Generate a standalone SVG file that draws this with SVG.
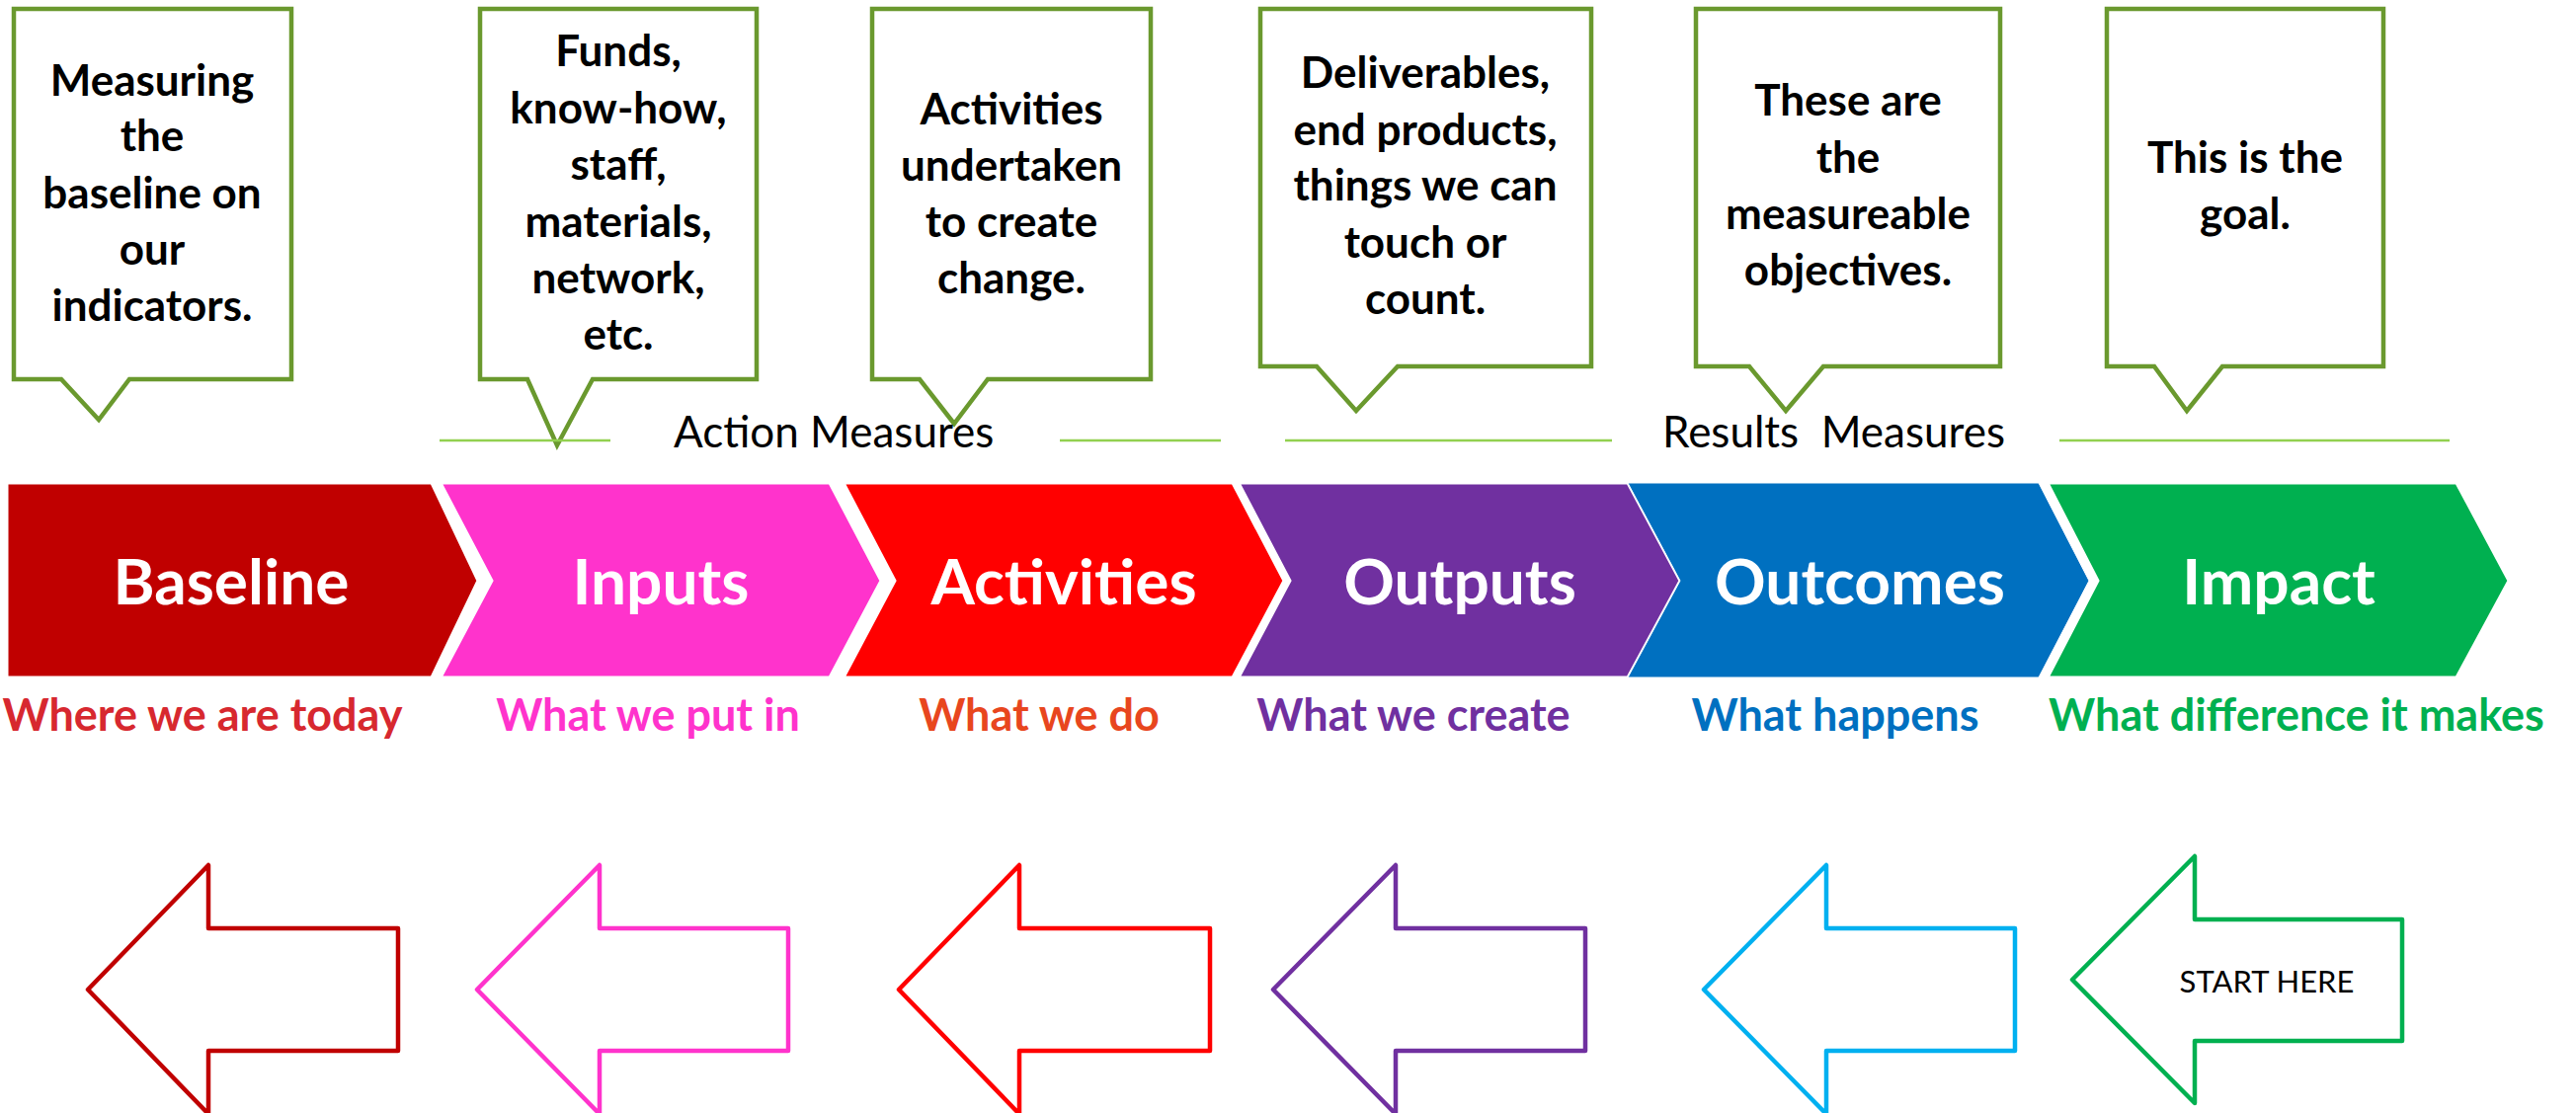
<svg xmlns="http://www.w3.org/2000/svg" width="2608" height="1127" viewBox="0 0 2608 1127">
<style>
  .callout { fill: #ffffff; stroke: #6A992E; stroke-width: 4.5; stroke-linejoin: miter; }
  .ctext { font-family: Lato, "Open Sans", "Liberation Sans", sans-serif; font-weight: bold; font-size: 44px; fill: #000000; text-anchor: middle; }
  .chev { stroke: #ffffff; stroke-width: 3; }
  .clabel { font-family: Lato, "Open Sans", "Liberation Sans", sans-serif; font-weight: bold; font-size: 64px; fill: #ffffff; text-anchor: middle; }
  .sub { font-family: Lato, "Open Sans", "Liberation Sans", sans-serif; font-weight: bold; font-size: 45px; text-anchor: middle; }
  .measure { font-family: Lato, "Open Sans", "Liberation Sans", sans-serif; font-size: 44px; fill: #000000; white-space: pre; }
  .rule { stroke: #92D050; stroke-width: 2.5; fill: none; }
  .arrow { fill: #ffffff; stroke-width: 4.5; stroke-linejoin: round; }
  .start { font-family: Lato, "Open Sans", "Liberation Sans", sans-serif; font-size: 31px; fill: #000000; text-anchor: middle; }
</style>

<!-- Callouts -->
<g id="callout-baseline">
  <path class="callout" d="M14,9 H295 V384 H131 L100,425 L62,384 H14 Z"/>
  <text class="ctext" x="154" y="97">Measuring</text>
  <text class="ctext" x="154" y="153">the</text>
  <text class="ctext" x="154" y="211">baseline on</text>
  <text class="ctext" x="154" y="268">our</text>
  <text class="ctext" x="154" y="325">indicators.</text>
</g>
<g id="callout-inputs">
  <path class="callout" d="M486,9 H766 V384 H600 L564,451 L534,384 H486 Z"/>
  <text class="ctext" x="626" y="67">Funds,</text>
  <text class="ctext" x="626" y="125">know-how,</text>
  <text class="ctext" x="626" y="182">staff,</text>
  <text class="ctext" x="626" y="240">materials,</text>
  <text class="ctext" x="626" y="297">network,</text>
  <text class="ctext" x="626" y="354">etc.</text>
</g>
<g id="callout-activities">
  <path class="callout" d="M883,9 H1165 V384 H1000 L966,429 L931,384 H883 Z"/>
  <text class="ctext" x="1024" y="126">Activities</text>
  <text class="ctext" x="1024" y="183">undertaken</text>
  <text class="ctext" x="1024" y="240">to create</text>
  <text class="ctext" x="1024" y="297">change.</text>
</g>
<g id="callout-outputs">
  <path class="callout" d="M1276,9 H1611 V371 H1415 L1373,416 L1333,371 H1276 Z"/>
  <text class="ctext" x="1443" y="89">Deliverables,</text>
  <text class="ctext" x="1443" y="147">end products,</text>
  <text class="ctext" x="1443" y="203">things we can</text>
  <text class="ctext" x="1443" y="261">touch or</text>
  <text class="ctext" x="1443" y="318">count.</text>
</g>
<g id="callout-outcomes">
  <path class="callout" d="M1717,9 H2025 V371 H1846 L1808,416 L1771,371 H1717 Z"/>
  <text class="ctext" x="1871" y="117">These are</text>
  <text class="ctext" x="1871" y="175">the</text>
  <text class="ctext" x="1871" y="232">measureable</text>
  <text class="ctext" x="1871" y="289">objectives.</text>
</g>
<g id="callout-impact">
  <path class="callout" d="M2133,9 H2413 V371 H2250 L2214,416 L2181,371 H2133 Z"/>
  <text class="ctext" x="2273" y="175">This is the</text>
  <text class="ctext" x="2273" y="232">goal.</text>
</g>

<!-- Measure rules and labels -->
<g id="measure-rules">
  <line class="rule" x1="445" y1="446" x2="618" y2="446"/>
  <line class="rule" x1="1073" y1="446" x2="1236" y2="446"/>
  <line class="rule" x1="1301" y1="446" x2="1632" y2="446"/>
  <line class="rule" x1="2085" y1="446" x2="2480" y2="446"/>
</g>
<g id="label-action-measures">
  <text class="measure" x="682" y="453">Action Measures</text>
</g>
<g id="label-results-measures">
  <text class="measure" x="1683" y="453">Results  Measures</text>
</g>

<!-- Chevrons -->
<g id="stage-baseline">
  <polygon class="chev" fill="#C00000" points="7,489 437,489 484,588 437,686 7,686"/>
  <text class="clabel" x="234" y="612">Baseline</text>
  <text class="sub" fill="#D7282F" x="205" y="740">Where we are today</text>
</g>
<g id="stage-inputs">
  <polygon class="chev" fill="#FF33CC" points="446,489 840,489 892,588 840,686 446,686 498,588"/>
  <text class="clabel" x="669" y="612">Inputs</text>
  <text class="sub" fill="#FF33CC" x="656" y="740">What we put in</text>
</g>
<g id="stage-activities">
  <polygon class="chev" fill="#FF0000" points="854,489 1248,489 1300,588 1248,686 854,686 906,588"/>
  <text class="clabel" x="1077" y="612">Activities</text>
  <text class="sub" fill="#E8461E" x="1052" y="740">What we do</text>
</g>
<g id="stage-outputs">
  <polygon class="chev" fill="#7030A0" points="1254,489 1648,489 1701,588 1648,686 1254,686 1306,588"/>
  <text class="clabel" x="1478" y="612">Outputs</text>
  <text class="sub" fill="#7030A0" x="1431" y="740">What we create</text>
</g>
<g id="stage-outcomes">
  <polygon fill="#0070C0" stroke="#ffffff" stroke-width="1" points="1648,489 2064,489 2115,588 2064,686 1648,686 1701,588"/>
  <text class="clabel" x="1883" y="612">Outcomes</text>
  <text class="sub" fill="#0070C0" x="1858" y="740">What happens</text>
</g>
<g id="stage-impact">
  <polygon class="chev" fill="#00B050" points="2073,489 2487,489 2540,588 2487,686 2073,686 2124,588"/>
  <text class="clabel" x="2307" y="612">Impact</text>
  <text class="sub" fill="#00B050" x="2325" y="740">What difference it makes</text>
</g>

<!-- Bottom arrows -->
<g id="arrow-baseline">
  <polygon class="arrow" stroke="#C00000" points="89,1002 211,876 211,940 403,940 403,1064 211,1064 211,1128"/>
</g>
<g id="arrow-inputs">
  <polygon class="arrow" stroke="#FF33CC" points="483,1002 607,876 607,940 798,940 798,1064 607,1064 607,1128"/>
</g>
<g id="arrow-activities">
  <polygon class="arrow" stroke="#FF0000" points="910,1002 1032,876 1032,940 1225,940 1225,1064 1032,1064 1032,1128"/>
</g>
<g id="arrow-outputs">
  <polygon class="arrow" stroke="#7030A0" points="1289,1002 1413,876 1413,940 1605,940 1605,1064 1413,1064 1413,1128"/>
</g>
<g id="arrow-outcomes">
  <polygon class="arrow" stroke="#00B0F0" points="1725,1002 1849,876 1849,940 2040,940 2040,1064 1849,1064 1849,1128"/>
</g>
<g id="arrow-impact">
  <polygon class="arrow" stroke="#00B050" points="2098,992 2222,867 2222,931 2432,931 2432,1054 2222,1054 2222,1117"/>
  <text class="start" x="2295" y="1005">START HERE</text>
</g>
</svg>
